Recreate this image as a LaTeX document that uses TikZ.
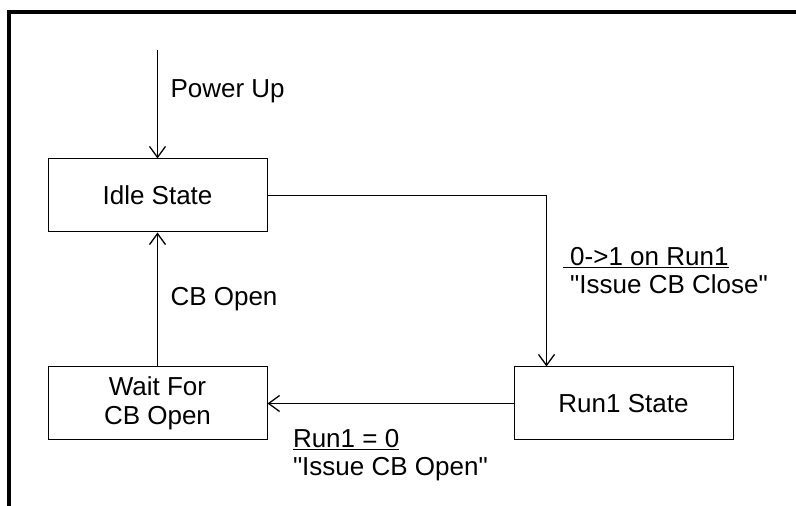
\documentclass[tikz,border=0pt]{standalone}
\usepackage{fontspec}
\setmainfont{Liberation Sans}[Ligatures=TeXOff]
\usetikzlibrary{positioning,arrows.meta}

\begin{document}
\begin{tikzpicture}[x=1pt, y=1pt, ->, >={Straight Barb[length=11pt,width=16pt,line width=1.3pt]}, line width=1pt,
  statebox/.style={draw, minimum width=219pt, minimum height=73pt, inner sep=0pt, align=center, font=\fontsize{26}{29}\selectfont},
  lbl/.style={inner sep=0pt, align=left, font=\fontsize{26}{28}\selectfont}]
\useasboundingbox (0,0) rectangle (796,506);
\draw[-, line width=4pt] (9,0) -- (9,494) -- (796,494);

\node[statebox] (idle) at (157.5,310.5) {Idle State};
\node[statebox, below = 134pt of idle] (wait) {Wait For\\CB Open};
\node[statebox, right = 246pt of wait] (run1) {Run1 State};
\coordinate (pwr) at (157.5,456);

\draw (pwr) -- (idle) node[lbl, pos=0.38, anchor=west, xshift=12.5pt] {Power Up};
\draw (idle) -| ([xshift=33pt]run1.north west) node[lbl, pos=0.72, anchor=west, xshift=16pt] {\underline{\ 0->1 on Run1}\\\ "Issue CB Close"};
\draw (run1) -- (wait) node[lbl, pos=1, anchor=north west, xshift=25pt, yshift=-25pt] {\underline{Run1 = 0}\\"Issue CB Open"};
\draw (wait) -- (idle) node[lbl, midway, anchor=west, xshift=12.5pt] {CB Open};
\end{tikzpicture}
\end{document}
